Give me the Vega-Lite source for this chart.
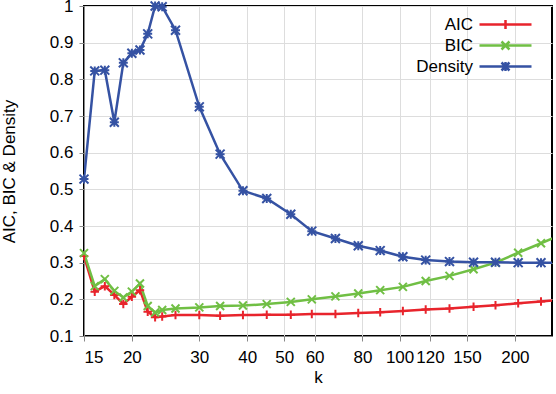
{
  "$schema": "https://vega.github.io/schema/vega-lite/v6.json",
  "width": 468,
  "height": 330,
  "autosize": {"type": "none"},
  "padding": {"left": 84, "top": 6, "right": 4, "bottom": 58},
  "config": {
    "font": "Liberation Sans",
    "view": {"stroke": "#000", "strokeWidth": 2}
  },
  "datasets": {
    "pts": [
      {"k": 15, "series": "AIC", "value": 0.318}, {"k": 16, "series": "AIC", "value": 0.221}, {"k": 17, "series": "AIC", "value": 0.236}, {"k": 18, "series": "AIC", "value": 0.212}, {"k": 19, "series": "AIC", "value": 0.187}, {"k": 20, "series": "AIC", "value": 0.207}, {"k": 21, "series": "AIC", "value": 0.225}, {"k": 22, "series": "AIC", "value": 0.166}, {"k": 23, "series": "AIC", "value": 0.151}, {"k": 24, "series": "AIC", "value": 0.153}, {"k": 26, "series": "AIC", "value": 0.157}, {"k": 30, "series": "AIC", "value": 0.157}, {"k": 34, "series": "AIC", "value": 0.155}, {"k": 39, "series": "AIC", "value": 0.157}, {"k": 45, "series": "AIC", "value": 0.158}, {"k": 52, "series": "AIC", "value": 0.158}, {"k": 59, "series": "AIC", "value": 0.16}, {"k": 68, "series": "AIC", "value": 0.16}, {"k": 78, "series": "AIC", "value": 0.163}, {"k": 89, "series": "AIC", "value": 0.165}, {"k": 102, "series": "AIC", "value": 0.168}, {"k": 117, "series": "AIC", "value": 0.172}, {"k": 135, "series": "AIC", "value": 0.175}, {"k": 156, "series": "AIC", "value": 0.18}, {"k": 178, "series": "AIC", "value": 0.184}, {"k": 204, "series": "AIC", "value": 0.189}, {"k": 234, "series": "AIC", "value": 0.194}, {"k": 269, "series": "AIC", "value": 0.2},
      {"k": 15, "series": "BIC", "value": 0.326}, {"k": 16, "series": "BIC", "value": 0.236}, {"k": 17, "series": "BIC", "value": 0.255}, {"k": 18, "series": "BIC", "value": 0.223}, {"k": 19, "series": "BIC", "value": 0.205}, {"k": 20, "series": "BIC", "value": 0.221}, {"k": 21, "series": "BIC", "value": 0.243}, {"k": 22, "series": "BIC", "value": 0.182}, {"k": 23, "series": "BIC", "value": 0.164}, {"k": 24, "series": "BIC", "value": 0.171}, {"k": 26, "series": "BIC", "value": 0.175}, {"k": 30, "series": "BIC", "value": 0.178}, {"k": 34, "series": "BIC", "value": 0.182}, {"k": 39, "series": "BIC", "value": 0.183}, {"k": 45, "series": "BIC", "value": 0.187}, {"k": 52, "series": "BIC", "value": 0.193}, {"k": 59, "series": "BIC", "value": 0.2}, {"k": 68, "series": "BIC", "value": 0.208}, {"k": 78, "series": "BIC", "value": 0.216}, {"k": 89, "series": "BIC", "value": 0.225}, {"k": 102, "series": "BIC", "value": 0.234}, {"k": 117, "series": "BIC", "value": 0.25}, {"k": 135, "series": "BIC", "value": 0.264}, {"k": 156, "series": "BIC", "value": 0.282}, {"k": 178, "series": "BIC", "value": 0.3}, {"k": 204, "series": "BIC", "value": 0.327}, {"k": 234, "series": "BIC", "value": 0.353}, {"k": 269, "series": "BIC", "value": 0.38},
      {"k": 15, "series": "Density", "value": 0.528}, {"k": 16, "series": "Density", "value": 0.823}, {"k": 17, "series": "Density", "value": 0.825}, {"k": 18, "series": "Density", "value": 0.683}, {"k": 19, "series": "Density", "value": 0.845}, {"k": 20, "series": "Density", "value": 0.871}, {"k": 21, "series": "Density", "value": 0.88}, {"k": 22, "series": "Density", "value": 0.924}, {"k": 23, "series": "Density", "value": 1.0}, {"k": 24, "series": "Density", "value": 0.998}, {"k": 26, "series": "Density", "value": 0.934}, {"k": 30, "series": "Density", "value": 0.725}, {"k": 34, "series": "Density", "value": 0.596}, {"k": 39, "series": "Density", "value": 0.496}, {"k": 45, "series": "Density", "value": 0.475}, {"k": 52, "series": "Density", "value": 0.432}, {"k": 59, "series": "Density", "value": 0.386}, {"k": 68, "series": "Density", "value": 0.366}, {"k": 78, "series": "Density", "value": 0.346}, {"k": 89, "series": "Density", "value": 0.333}, {"k": 102, "series": "Density", "value": 0.316}, {"k": 117, "series": "Density", "value": 0.307}, {"k": 135, "series": "Density", "value": 0.303}, {"k": 156, "series": "Density", "value": 0.301}, {"k": 178, "series": "Density", "value": 0.301}, {"k": 204, "series": "Density", "value": 0.3}, {"k": 234, "series": "Density", "value": 0.3}, {"k": 269, "series": "Density", "value": 0.3}
    ]
  },
  "data": {"name": "pts"},
  "encoding": {
    "x": {"field": "k", "type": "quantitative", "scale": {"type": "log", "domain": [15, 250], "nice": false},
          "axis": {"title": "k", "values": [15, 20, 30, 40, 50, 60, 80, 100, 120, 150, 200], "labelOverlap": false, "labelFontSize": 17, "titleFontSize": 17, "titleFontWeight": "normal", "format": "d",
                   "labelPadding": 8, "titlePadding": 4}},
    "y": {"field": "value", "type": "quantitative", "scale": {"domain": [0.1, 1], "nice": false, "zero": false},
          "axis": {"title": "AIC, BIC & Density", "values": [0.1, 0.2, 0.3, 0.4, 0.5, 0.6, 0.7, 0.8, 0.9, 1], "format": "~g", "labelFontSize": 17, "titleFontSize": 17, "titleFontWeight": "normal",
                   "labelPadding": 6, "titlePadding": 31}}
  },
  "layer": [
    {
      "mark": {"type": "line", "clip": true, "strokeWidth": 2.5},
      "encoding": {
        "color": {"field": "series", "type": "nominal", "scale": {"domain": ["AIC", "BIC", "Density"], "range": ["#e8242c", "#70bf44", "#3552a3"]},
                  "legend": {"orient": "none", "legendX": 410, "legendY": 7, "direction": "vertical", "title": null, "symbolSize": 400, "symbolStrokeWidth": 2.5,
                             "labelFontSize": 17, "labelColor": "#000", "labelAlign": "right", "labelOffset": -44, "rowPadding": 0, "padding": 0,
                             "encode": {"symbols": {"update": {"shape": {"signal": "datum.value == 'AIC' ? 'M-2.6,0H2.6M0,-0.44V0.44' : datum.value == 'BIC' ? 'M-2.6,0H2.6M-0.4,-0.4L0.4,0.4M-0.4,0.4L0.4,-0.4' : 'M-2.6,0H2.6M0,-0.44V0.44M-0.4,-0.4L0.4,0.4M-0.4,0.4L0.4,-0.4'"}, "fill": {"value": "transparent"}, "strokeWidth": {"value": 2.5}}}}}}
      }
    },
    {
      "transform": [{"filter": "datum.series == 'AIC' && datum.k <= 250"}],
      "mark": {"type": "point", "shape": "M-1,0H1M0,-1V1", "size": 72, "strokeWidth": 2, "filled": false, "color": "#e8242c", "opacity": 1}
    },
    {
      "transform": [{"filter": "datum.series == 'BIC' && datum.k <= 250"}],
      "mark": {"type": "point", "shape": "M-1,-1L1,1M-1,1L1,-1", "size": 64, "strokeWidth": 2, "filled": false, "color": "#70bf44", "opacity": 1}
    },
    {
      "transform": [{"filter": "datum.series == 'Density' && datum.k <= 250"}],
      "mark": {"type": "point", "shape": "M-1,0H1M0,-1V1M-1,-1L1,1M-1,1L1,-1", "size": 80, "strokeWidth": 2, "filled": false, "color": "#3552a3", "opacity": 1}
    }
  ]
}
